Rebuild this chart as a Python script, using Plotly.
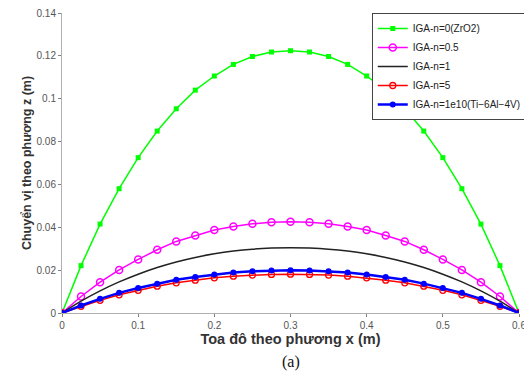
import plotly.graph_objects as go

x = [i * 0.025 for i in range(25)]

half_green = [0, 0.0221, 0.0415, 0.058, 0.0725, 0.0849, 0.0953, 0.104, 0.1106, 0.116, 0.1197, 0.1218, 0.1224]
half_mag = [0, 0.0077, 0.0144, 0.0201, 0.025, 0.0295, 0.0334, 0.0362, 0.0387, 0.0404, 0.0416, 0.0423, 0.0426]
half_black = [0, 0.0055, 0.0103, 0.0145, 0.0181, 0.0212, 0.0238, 0.0259, 0.0276, 0.0289, 0.0298, 0.0303, 0.0305]
half_red = [0, 0.0031, 0.0059, 0.0085, 0.0106, 0.0125, 0.0141, 0.0153, 0.0164, 0.0172, 0.0177, 0.018, 0.0181]
half_blue = [0, 0.0035, 0.0066, 0.0094, 0.0117, 0.0137, 0.0155, 0.0168, 0.018, 0.0189, 0.0195, 0.0198, 0.0199]

def mirror(h):
    return h + h[-2::-1]

y_green = mirror(half_green)
y_mag = mirror(half_mag)
y_black = mirror(half_black)
y_red = mirror(half_red)
y_blue = mirror(half_blue)

names = ["IGA-n=0(ZrO2)", "IGA-n=0.5", "IGA-n=1", "IGA-n=5", "IGA-n=1e10(Ti\u22126Al\u22124V)"]

fig = go.Figure()
fig.add_trace(go.Scatter(x=x, y=y_green, name=names[0], mode="lines+markers",
                         line=dict(color="#00ff00", width=1.5),
                         marker=dict(symbol="square", size=5, color="#00ff00")))
fig.add_trace(go.Scatter(x=x, y=y_mag, name=names[1], mode="lines+markers",
                         line=dict(color="#ff00ff", width=1.5),
                         marker=dict(symbol="circle-open", size=7, color="#ff00ff", line=dict(width=1.5))))
fig.add_trace(go.Scatter(x=x, y=y_black, name=names[2], mode="lines",
                         line=dict(color="#222222", width=1.5, shape="spline")))
fig.add_trace(go.Scatter(x=x, y=y_red, name=names[3], mode="lines+markers",
                         line=dict(color="#ff0000", width=1.5),
                         marker=dict(symbol="circle-open", size=6, color="#ff0000", line=dict(width=1.3))))
fig.add_trace(go.Scatter(x=x, y=y_blue, name=names[4], mode="lines+markers",
                         line=dict(color="#0000ff", width=2.5),
                         marker=dict(symbol="circle", size=6, color="#0000ff")))

axis_common = dict(showline=True, linecolor="#b0b0b0", linewidth=1, ticks="outside",
                   ticklen=3, tickcolor="#808080", showgrid=False, zeroline=False,
                   automargin=False, ticklabeloverflow="allow",
                   tickfont=dict(family="Liberation Sans, Arial", size=10, color="#555555"))

fig.update_layout(
    width=524, height=363,
    margin=dict(l=54, r=9, t=5, b=58),
    plot_bgcolor="white", paper_bgcolor="white",
    xaxis=dict(range=[0, 0.6], tickvals=[0, 0.1, 0.2, 0.3, 0.4, 0.5, 0.6],
               ticktext=["0", "0.1", "0.2", "0.3", "0.4", "0.5", "0.6"],
               title=dict(text="<b>Toa đô theo phương x (m)</b>", standoff=1,
                          font=dict(family="Liberation Sans, Arial", size=14.5, color="#333333")),
               **axis_common),
    yaxis=dict(range=[0, 0.14], tickvals=[0, 0.02, 0.04, 0.06, 0.08, 0.1, 0.12, 0.14],
               ticktext=["0", "0.02", "0.04", "0.06", "0.08", "0.1", "0.12", "0.14"],
               title=dict(text="<b>Chuyển vị theo phương z (m)</b>", standoff=2,
                          font=dict(family="Liberation Sans, Arial", size=12.5, color="#333333")),
               **axis_common),
    legend=dict(x=1.017, y=1.0, xanchor="right", yanchor="top",
                bordercolor="#444444", borderwidth=1, bgcolor="white",
                font=dict(family="Liberation Sans, Arial", size=10, color="#222222"),
                tracegroupgap=0, itemwidth=30),
    showlegend=True,
)

fig.add_annotation(text="(a)", xref="paper", yref="paper", x=0.5, y=-0.163,
                   xanchor="center", yanchor="middle", showarrow=False,
                   font=dict(family="Liberation Serif, Times New Roman", size=16, color="#111111"))

fig.write_html("out.html")
